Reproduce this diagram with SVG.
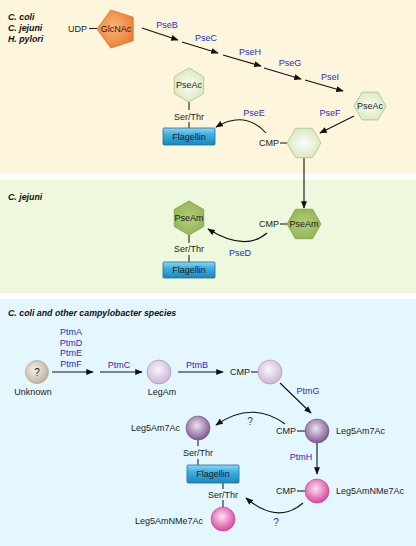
<svg xmlns="http://www.w3.org/2000/svg" width="416" height="546" viewBox="0 0 416 546">
<defs>
<style>
text{font-family:"Liberation Sans",Arial,sans-serif;font-size:9px;fill:#1a1a1a}
.t{font-weight:bold;font-style:italic;font-size:8.8px;fill:#111}
.e{fill:#2a2ac4;text-anchor:middle}
.c{text-anchor:middle}
.ln{stroke:#222;stroke-width:1.1;fill:none}
.ar{stroke:#111;stroke-width:1.1;fill:none;marker-end:url(#ah)}
.hl{fill:url(#gHexL);stroke:#b2c78e;stroke-width:0.9}
.hd{fill:url(#gHexD);stroke:#86a34a;stroke-width:0.9}
.fl{fill:url(#gFlag);stroke:#1f6f9c;stroke-width:0.8}
</style>
<marker id="ah" viewBox="0 0 10 8" refX="9" refY="4" markerWidth="8" markerHeight="6" markerUnits="userSpaceOnUse" orient="auto"><path d="M0,0 L10,4 L0,8 Z" fill="#111"/></marker>
<radialGradient id="gHexL" cx="0.5" cy="0.5" r="0.55"><stop offset="0" stop-color="#fbfdf6"/><stop offset="1" stop-color="#d9e8bf"/></radialGradient>
<radialGradient id="gHexD" cx="0.5" cy="0.5" r="0.55"><stop offset="0" stop-color="#b3cd7c"/><stop offset="1" stop-color="#95b656"/></radialGradient>
<radialGradient id="gOr" cx="0.45" cy="0.45" r="0.6"><stop offset="0" stop-color="#f9b57a"/><stop offset="1" stop-color="#ec7d36"/></radialGradient>
<linearGradient id="gFlag" x1="0" y1="0" x2="0" y2="1"><stop offset="0" stop-color="#8fd6f2"/><stop offset="0.35" stop-color="#45b3e2"/><stop offset="1" stop-color="#1a86bd"/></linearGradient>
<radialGradient id="gUnk" cx="0.4" cy="0.4" r="0.6"><stop offset="0" stop-color="#f4f1ec"/><stop offset="1" stop-color="#bfb3a4"/></radialGradient>
<radialGradient id="gLav" cx="0.45" cy="0.4" r="0.6"><stop offset="0" stop-color="#faf6fc"/><stop offset="1" stop-color="#cbb5d6"/></radialGradient>
<radialGradient id="gPur" cx="0.45" cy="0.4" r="0.6"><stop offset="0" stop-color="#ece2f0"/><stop offset="1" stop-color="#7c5890"/></radialGradient>
<radialGradient id="gPink" cx="0.45" cy="0.4" r="0.6"><stop offset="0" stop-color="#fbe0f1"/><stop offset="1" stop-color="#d8469f"/></radialGradient>
<polygon id="hexH" points="-16,0 -8,-13.9 8,-13.9 16,0 8,13.9 -8,13.9"/>
<polygon id="hexH17" points="-17,0 -8.5,-14.7 8.5,-14.7 17,0 8.5,14.7 -8.5,14.7"/>
<polygon id="hexV" points="0,-17 14.7,-8.5 14.7,8.5 0,17 -14.7,8.5 -14.7,-8.5"/>
</defs>

<rect x="0" y="0" width="416" height="173" fill="#fef6dc"/>
<rect x="0" y="180" width="416" height="113" fill="#edf8dc"/>
<rect x="0" y="299" width="416" height="247" fill="#e5f7fe"/>

<g id="titles">
<text class="t" x="8" y="20">C. coli</text>
<text class="t" x="8" y="31">C. jejuni</text>
<text class="t" x="8" y="42">H. pylori</text>
<text class="t" x="8" y="200">C. jejuni</text>
<text class="t" x="8" y="316">C. coli and other campylobacter species</text>
</g>

<g id="connectors">
<line class="ln" x1="89" y1="28.5" x2="97" y2="28.5"/>
<line class="ar" x1="142" y1="28" x2="178" y2="40"/>
<line class="ar" x1="182" y1="42" x2="218" y2="53"/>
<line class="ar" x1="223" y1="55" x2="261" y2="66"/>
<line class="ar" x1="264" y1="68" x2="301" y2="79"/>
<line class="ar" x1="305" y1="80" x2="343" y2="91"/>
<line class="ar" x1="354" y1="116" x2="320" y2="133"/>
<line class="ln" x1="280" y1="143" x2="287" y2="143"/>
<path class="ar" d="M266,133 Q245,110 216,127"/>
<line class="ln" x1="189" y1="102" x2="189" y2="110"/>
<line class="ln" x1="189" y1="122" x2="189" y2="128"/>
<line class="ar" x1="304" y1="158" x2="304" y2="208"/>
<line class="ln" x1="280" y1="224" x2="287" y2="224"/>
<path class="ar" d="M267,233 Q245,252 208,229"/>
<line class="ln" x1="189" y1="235" x2="189" y2="243"/>
<line class="ln" x1="189" y1="255" x2="189" y2="262"/>
<line class="ar" x1="52" y1="372" x2="93" y2="372"/>
<line class="ar" x1="100" y1="372" x2="142" y2="372"/>
<line class="ar" x1="178" y1="372" x2="223" y2="372"/>
<line class="ln" x1="251" y1="372" x2="258" y2="372"/>
<line class="ar" x1="280" y1="383" x2="311" y2="413"/>
<line class="ln" x1="297" y1="431" x2="305" y2="431"/>
<path class="ar" d="M285,424 Q252,400 216,425"/>
<line class="ar" x1="317" y1="443" x2="317" y2="474"/>
<line class="ln" x1="297" y1="491" x2="305" y2="491"/>
<path class="ar" d="M303,503 Q278,525 246,498"/>
<line class="ln" x1="198" y1="440" x2="198" y2="446"/>
<line class="ln" x1="198" y1="459" x2="198" y2="465"/>
<line class="ln" x1="223" y1="483" x2="223" y2="489"/>
<line class="ln" x1="223" y1="500" x2="223" y2="507"/>
</g>

<g id="enzymes">
<text class="e" x="167" y="28">PseB</text>
<text class="e" x="206" y="41">PseC</text>
<text class="e" x="250" y="55">PseH</text>
<text class="e" x="290" y="66">PseG</text>
<text class="e" x="330" y="80">PseI</text>
<text class="e" x="330" y="116">PseF</text>
<text class="e" x="254" y="116">PseE</text>
<text class="e" x="240" y="256">PseD</text>
<text class="e" x="71" y="335">PtmA</text>
<text class="e" x="71" y="345.5">PtmD</text>
<text class="e" x="71" y="356">PtmE</text>
<text class="e" x="71" y="367">PtmF</text>
<text class="e" x="119" y="368">PtmC</text>
<text class="e" x="197" y="368">PtmB</text>
<text class="e" x="308" y="394">PtmG</text>
<text class="e" x="301" y="460">PtmH</text>
<text class="e" x="250" y="425" style="font-size:10px">?</text>
<text class="e" x="276" y="526" style="font-size:10px">?</text>
</g>

<g id="udp-glcnac">
<text x="87" y="32" text-anchor="end">UDP</text>
<polygon points="97,29 110.8,10 133.2,17.2 133.2,40.8 110.8,48" fill="url(#gOr)" stroke="#d9702e" stroke-width="0.8"/>
<text class="c" x="116" y="32">GlcNAc</text>
</g>

<g id="pseac-right">
<use href="#hexH" x="370" y="106" class="hl"/>
<text class="c" x="370" y="109">PseAc</text>
</g>

<g id="cmp-pse">
<use href="#hexH17" x="304" y="143" class="hl"/>
<text x="279" y="146" text-anchor="end">CMP</text>
</g>

<g id="pseac-flagellin">
<use href="#hexV" x="189" y="85" class="hl"/>
<text class="c" x="189" y="88">PseAc</text>
<text class="c" x="189" y="119.5">Ser/Thr</text>
<rect class="fl" x="163" y="128" width="52" height="17" rx="1"/>
<text class="c" x="189" y="139.5">Flagellin</text>
</g>

<g id="cmp-pseam">
<use href="#hexH17" x="304" y="224" class="hd"/>
<text class="c" x="304" y="227">PseAm</text>
<text x="279" y="227" text-anchor="end">CMP</text>
</g>

<g id="pseam-flagellin">
<use href="#hexV" x="189" y="218" class="hd"/>
<text class="c" x="189" y="221">PseAm</text>
<text class="c" x="189" y="252">Ser/Thr</text>
<rect class="fl" x="163" y="262" width="52" height="16" rx="1"/>
<text class="c" x="189" y="273">Flagellin</text>
</g>

<g id="unknown">
<circle cx="37" cy="372" r="11.5" fill="url(#gUnk)" stroke="#a89b8a" stroke-width="0.6"/>
<text class="c" x="37" y="376" style="font-size:10px">?</text>
<text class="c" x="33" y="395">Unknown</text>
</g>

<g id="legam">
<circle cx="159" cy="372" r="12" fill="url(#gLav)" stroke="#a28eb2" stroke-width="0.6"/>
<text class="c" x="162" y="395">LegAm</text>
</g>

<g id="cmp-legam">
<text x="250" y="375" text-anchor="end">CMP</text>
<circle cx="270" cy="372" r="12" fill="url(#gLav)" stroke="#a28eb2" stroke-width="0.6"/>
</g>

<g id="cmp-leg5am7ac">
<text x="296" y="434" text-anchor="end">CMP</text>
<circle cx="317" cy="431" r="12" fill="url(#gPur)" stroke="#6e4d82" stroke-width="0.6"/>
<text x="336" y="434">Leg5Am7Ac</text>
</g>

<g id="cmp-leg5amnme7ac">
<text x="296" y="494" text-anchor="end">CMP</text>
<circle cx="317" cy="491" r="12" fill="url(#gPink)" stroke="#c23d8e" stroke-width="0.6"/>
<text x="336" y="494">Leg5AmNMe7Ac</text>
</g>

<g id="flagellin-legs">
<text x="180" y="431" text-anchor="end">Leg5Am7Ac</text>
<circle cx="198" cy="428" r="12" fill="url(#gPur)" stroke="#6e4d82" stroke-width="0.6"/>
<text class="c" x="198" y="456">Ser/Thr</text>
<rect class="fl" x="187" y="465" width="52" height="18" rx="1"/>
<text class="c" x="213" y="477">Flagellin</text>
<text class="c" x="223" y="498">Ser/Thr</text>
<circle cx="223" cy="519" r="12" fill="url(#gPink)" stroke="#c23d8e" stroke-width="0.6"/>
<text x="203" y="524" text-anchor="end">Leg5AmNMe7Ac</text>
</g>
</svg>
